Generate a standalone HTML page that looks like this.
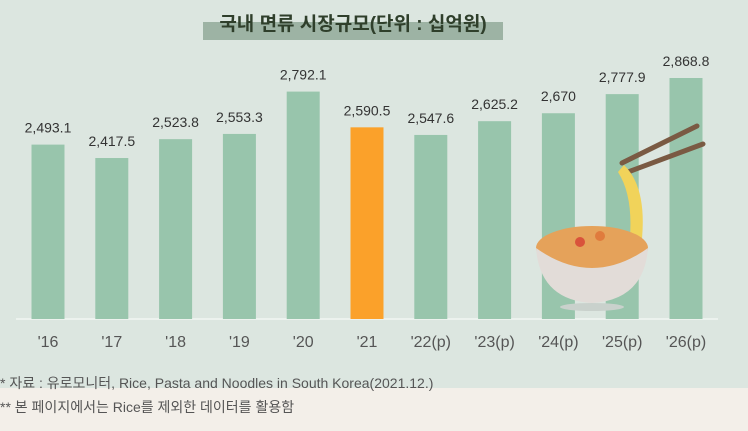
<!DOCTYPE html>
<html><head><meta charset="utf-8"><style>
body{margin:0;width:748px;height:431px;overflow:hidden;background:#dce6e0;font-family:"Liberation Sans","Noto Sans CJK KR",sans-serif}
svg{display:block}
</style></head><body>
<svg id="c" width="748" height="431">
<rect x="0" y="0" width="748" height="388" fill="#dce6e0"/>
<rect x="0" y="388" width="748" height="43" fill="#f3efe9"/>
<rect x="203" y="22" width="300" height="18" fill="#9db3a4"/>
<text x="353" y="30" text-anchor="middle" font-size="19" font-weight="bold" fill="#2f3f2b">국내 면류 시장규모(단위 : 십억원)</text>
<line x1="16" y1="319" x2="718" y2="319" stroke="#f2f6f3" stroke-width="1.5"/>
<g id="bars"></g>
<g>
<line x1="622" y1="163" x2="697" y2="126" stroke="#7a5a43" stroke-width="5" stroke-linecap="round"/>
<line x1="628" y1="172" x2="703" y2="144" stroke="#7a5a43" stroke-width="5" stroke-linecap="round"/>
<path d="M624 165 Q650 190 640 255 L628 255 Q636 200 618 172Z" fill="#f1d35a"/>
<ellipse cx="592" cy="307" rx="32" ry="4" fill="#c9d1cc"/>
<ellipse cx="592" cy="248" rx="56" ry="22" fill="#e5a25a"/>
<path d="M536 248 Q540 300 592 303 Q644 300 648 248 Q620 268 592 268 Q564 268 536 248Z" fill="#e2dcd8"/>
<circle cx="580" cy="242" r="5" fill="#d9533b"/><circle cx="600" cy="236" r="5" fill="#e07b3d"/>
</g>
<text x="0" y="388" font-size="14" fill="#555">* 자료 : 유로모니터, Rice, Pasta and Noodles in South Korea(2021.12.)</text>
<text x="0" y="412" font-size="14" fill="#555">** 본 페이지에서는 Rice를 제외한 데이터를 활용함</text>
</svg>
<script>
const categories=["'16","'17","'18","'19","'20","'21","'22(p)","'23(p)","'24(p)","'25(p)","'26(p)"];
const values=[2493.1,2417.5,2523.8,2553.3,2792.1,2590.5,2547.6,2625.2,2670,2777.9,2868.8];
const valueLabels=["2,493.1","2,417.5","2,523.8","2,553.3","2,792.1","2,590.5","2,547.6","2,625.2","2,670","2,777.9","2,868.8"];
const highlightIndex=5;
const NS="http://www.w3.org/2000/svg";
const xPos=i=>48+i*63.8;
const yPos=v=>319-(v-1509.5)*0.1773;
const g=document.getElementById('bars');
categories.forEach((c,i)=>{
  const x=xPos(i),y=yPos(values[i]);
  const r=document.createElementNS(NS,'rect');
  r.setAttribute('x',x-16.5);r.setAttribute('y',y);r.setAttribute('width',33);r.setAttribute('height',319-y);
  r.setAttribute('fill',i===highlightIndex?'#fba12a':'#98c5ac');
  
  
  g.appendChild(r);
  const t=document.createElementNS(NS,'text');
  t.setAttribute('x',x);t.setAttribute('y',y-12);t.setAttribute('text-anchor','middle');
  t.setAttribute('font-size','14');t.setAttribute('fill','#333');
  t.textContent=valueLabels[i];
  
  
  g.appendChild(t);
  const l=document.createElementNS(NS,'text');
  l.setAttribute('x',x);l.setAttribute('y',347);l.setAttribute('text-anchor','middle');
  l.setAttribute('font-size','16');l.setAttribute('fill','#555');
  l.textContent=c;
  
  
  g.appendChild(l);
});
</script>
</body></html>
